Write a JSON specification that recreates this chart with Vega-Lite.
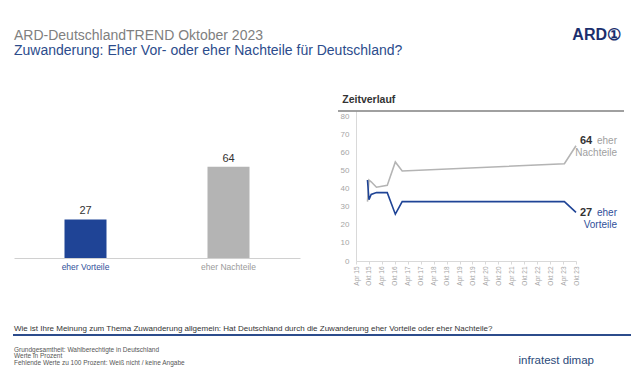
{
  "$schema": "https://vega.github.io/schema/vega-lite/v6.json",
  "background": "white",
  "padding": {"left": 13, "top": 27, "right": 5, "bottom": 0},
  "config": {"view": {"stroke": null}, "font": "Liberation Sans"},
  "spacing": 35,
  "vconcat": [
    {
      "spacing": 0,
      "hconcat": [
        {
          "width": 540, "height": 0.01,
          "data": {"values": []},
          "mark": "point",
          "title": {
            "text": "ARD-DeutschlandTREND Oktober 2023",
            "subtitle": "Zuwanderung: Eher Vor- oder eher Nachteile für Deutschland?",
            "anchor": "start", "fontSize": 14, "fontWeight": "normal", "color": "#808080",
            "subtitleFontSize": 14, "subtitleColor": "#2c4c8c", "subtitlePadding": 1, "offset": 0
          }
        },
        {
          "width": 67, "height": 0.01,
          "data": {"values": []},
          "mark": "point",
          "title": {"text": "ARD①", "anchor": "end", "fontSize": 16, "fontWeight": "bold", "color": "#1b2f6e", "offset": 15}
        }
      ]
    },
    {
      "spacing": 38,
      "vconcat": [
        {
          "spacing": 37,
          "hconcat": [
            {
              "width": 286, "height": 147,
              "data": {"values": [
                {"category": "eher Vorteile", "value": 27},
                {"category": "eher Nachteile", "value": 64}
              ]},
              "encoding": {
                "x": {
                  "field": "category", "type": "nominal", "sort": null,
                  "scale": {"paddingInner": 0, "paddingOuter": 0},
                  "axis": {
                    "title": null, "labelAngle": 0, "ticks": false, "domainColor": "#d0d0d0",
                    "labelFontSize": 8.5, "labelPadding": 4,
                    "labelColor": {"condition": {"test": "datum.value == 'eher Vorteile'", "value": "#2f4f9a"}, "value": "#9a9a9a"}
                  }
                },
                "y": {"field": "value", "type": "quantitative", "scale": {"domain": [0, 103], "nice": false}, "axis": null}
              },
              "layer": [
                {
                  "mark": {"type": "bar", "size": 42},
                  "encoding": {
                    "color": {"field": "category", "type": "nominal", "scale": {"domain": ["eher Vorteile", "eher Nachteile"], "range": ["#1f4496", "#b4b4b4"]}, "legend": null}
                  }
                },
                {
                  "mark": {"type": "text", "dy": -8, "fontSize": 11, "color": "#333333"},
                  "encoding": {"text": {"field": "value", "type": "quantitative"}}
                }
              ]
            },
            {
              "width": 286, "height": 150,
              "title": {"text": "Zeitverlauf", "anchor": "start", "dx": 5, "fontSize": 10.5, "fontWeight": "bold", "color": "#333333", "offset": 5},
              "data": {"values": [
                {"series": "eher Nachteile", "date": "2015-09-10", "value": 33},
                {"series": "eher Nachteile", "date": "2015-10-01", "value": 45},
                {"series": "eher Nachteile", "date": "2015-11-01", "value": 44},
                {"series": "eher Nachteile", "date": "2016-01-15", "value": 41},
                {"series": "eher Nachteile", "date": "2016-06-15", "value": 42},
                {"series": "eher Nachteile", "date": "2016-10-07", "value": 55},
                {"series": "eher Nachteile", "date": "2017-01-12", "value": 50},
                {"series": "eher Nachteile", "date": "2023-04-20", "value": 54},
                {"series": "eher Nachteile", "date": "2023-10-01", "value": 64},
                {"series": "eher Vorteile", "date": "2015-09-10", "value": 45},
                {"series": "eher Vorteile", "date": "2015-10-01", "value": 34},
                {"series": "eher Vorteile", "date": "2015-11-01", "value": 37},
                {"series": "eher Vorteile", "date": "2016-01-15", "value": 38},
                {"series": "eher Vorteile", "date": "2016-06-15", "value": 38},
                {"series": "eher Vorteile", "date": "2016-10-07", "value": 26},
                {"series": "eher Vorteile", "date": "2017-01-12", "value": 33},
                {"series": "eher Vorteile", "date": "2023-04-20", "value": 33},
                {"series": "eher Vorteile", "date": "2023-10-01", "value": 27}
              ]},
              "layer": [
                {
                  "mark": {"type": "line", "strokeWidth": 1.6},
                  "encoding": {
                    "x": {
                      "field": "date", "type": "temporal",
                      "scale": {"type": "utc", "domain": [{"year": 2015, "month": 4, "date": 1, "utc": true}, {"year": 2023, "month": 10, "date": 1, "utc": true}], "range": [18, 238]},
                      "axis": {
                        "values": [
                          {"year": 2015, "month": 4, "date": 1, "utc": true}, {"year": 2015, "month": 10, "date": 1, "utc": true},
                          {"year": 2016, "month": 4, "date": 1, "utc": true}, {"year": 2016, "month": 10, "date": 1, "utc": true},
                          {"year": 2017, "month": 4, "date": 1, "utc": true}, {"year": 2017, "month": 10, "date": 1, "utc": true},
                          {"year": 2018, "month": 4, "date": 1, "utc": true}, {"year": 2018, "month": 10, "date": 1, "utc": true},
                          {"year": 2019, "month": 4, "date": 1, "utc": true}, {"year": 2019, "month": 10, "date": 1, "utc": true},
                          {"year": 2020, "month": 4, "date": 1, "utc": true}, {"year": 2020, "month": 10, "date": 1, "utc": true},
                          {"year": 2021, "month": 4, "date": 1, "utc": true}, {"year": 2021, "month": 10, "date": 1, "utc": true},
                          {"year": 2022, "month": 4, "date": 1, "utc": true}, {"year": 2022, "month": 10, "date": 1, "utc": true},
                          {"year": 2023, "month": 4, "date": 1, "utc": true}, {"year": 2023, "month": 10, "date": 1, "utc": true}
                        ],
                        "tickCount": 100,
                        "labelExpr": "(utcmonth(datum.value) == 3 ? 'Apr ' : 'Okt ') + utcFormat(datum.value, '%y')",
                        "labelAngle": 270, "labelAlign": "right", "labelBaseline": "middle",
                        "labelFontSize": 6.5, "labelColor": "#a6a6a6", "labelPadding": 2,
                        "tickSize": 3, "tickColor": "#d9d9d9", "domainColor": "#d9d9d9",
                        "grid": false, "title": null, "labelOverlap": false, "labelBound": false, "labelFlush": false
                      }
                    },
                    "y": {
                      "field": "value", "type": "quantitative",
                      "scale": {"domain": [0, 83.33], "nice": false},
                      "axis": {
                        "values": [0, 10, 20, 30, 40, 50, 60, 70, 80],
                        "tickCount": 100, "labelOverlap": false,
                        "ticks": false, "grid": false, "domainColor": "#d9d9d9",
                        "labelColor": "#a6a6a6", "labelFontSize": 8, "labelPadding": 7,
                        "offset": -18, "title": null
                      }
                    },
                    "color": {"field": "series", "type": "nominal", "scale": {"domain": ["eher Vorteile", "eher Nachteile"], "range": ["#2b4380", "#c3c3c3"]}, "legend": null}
                  }
                },
                {
                  "data": {"values": [{}]},
                  "mark": {"type": "rule", "color": "#808080", "strokeWidth": 1.5},
                  "encoding": {"y": {"datum": 83.33}}
                },
                {
                  "transform": [{"filter": "datum.series == 'eher Nachteile' && utcyear(datum.date) == 2023 && utcmonth(datum.date) == 9"}],
                  "mark": {"type": "text", "align": "left", "baseline": "middle", "dx": 4, "dy": -5, "fontSize": 11, "fontWeight": "bold", "color": "#333333"},
                  "encoding": {
                    "x": {"field": "date", "type": "temporal"},
                    "y": {"field": "value", "type": "quantitative"},
                    "text": {"field": "value", "type": "quantitative"}
                  }
                },
                {
                  "transform": [{"filter": "datum.series == 'eher Nachteile' && utcyear(datum.date) == 2023 && utcmonth(datum.date) == 9"}],
                  "mark": {"type": "text", "align": "right", "baseline": "top", "dx": 41, "dy": -10, "fontSize": 10, "lineHeight": 12, "lineBreak": " ", "color": "#a0a0a0"},
                  "encoding": {
                    "x": {"field": "date", "type": "temporal"},
                    "y": {"field": "value", "type": "quantitative"},
                    "text": {"field": "series", "type": "nominal"}
                  }
                },
                {
                  "transform": [{"filter": "datum.series == 'eher Vorteile' && utcyear(datum.date) == 2023 && utcmonth(datum.date) == 9"}],
                  "mark": {"type": "text", "align": "left", "baseline": "middle", "dx": 4, "dy": 1, "fontSize": 11, "fontWeight": "bold", "color": "#333333"},
                  "encoding": {
                    "x": {"field": "date", "type": "temporal"},
                    "y": {"field": "value", "type": "quantitative"},
                    "text": {"field": "value", "type": "quantitative"}
                  }
                },
                {
                  "transform": [{"filter": "datum.series == 'eher Vorteile' && utcyear(datum.date) == 2023 && utcmonth(datum.date) == 9"}],
                  "mark": {"type": "text", "align": "right", "baseline": "top", "dx": 41, "dy": -4, "fontSize": 10, "lineHeight": 12, "lineBreak": " ", "color": "#2f4f9a"},
                  "encoding": {
                    "x": {"field": "date", "type": "temporal"},
                    "y": {"field": "value", "type": "quantitative"},
                    "text": {"field": "series", "type": "nominal"}
                  }
                }
              ]
            }
          ]
        },
        {
          "spacing": 9,
          "vconcat": [
            {
              "width": 616, "height": 0.01,
              "data": {"values": []},
              "mark": "point",
              "view": {"stroke": "#2c4c8c", "strokeWidth": 2},
              "title": {
                "text": "Wie ist Ihre Meinung zum Thema Zuwanderung allgemein: Hat Deutschland durch die Zuwanderung  eher Vorteile oder eher Nachteile?",
                "anchor": "start", "fontSize": 8, "fontWeight": "normal", "color": "#333333", "offset": 2
              }
            },
            {
              "spacing": 0,
              "hconcat": [
                {
                  "width": 300, "height": 0.01,
                  "data": {"values": []},
                  "mark": "point",
                  "title": {
                    "text": ["Grundgesamtheit:  Wahlberechtigte in Deutschland", "Werte in Prozent", "Fehlende  Werte zu 100 Prozent:  Weiß nicht / keine Angabe"],
                    "anchor": "start", "fontSize": 6.5, "lineHeight": 6.5, "fontWeight": "normal", "color": "#555555", "offset": 0
                  }
                },
                {
                  "width": 280, "height": 0.01,
                  "data": {"values": []},
                  "mark": "point",
                  "title": {"text": "infratest dimap", "anchor": "end", "fontSize": 11.5, "fontWeight": "normal", "color": "#2b4a7a", "offset": 0}
                }
              ]
            }
          ]
        }
      ]
    }
  ]
}
